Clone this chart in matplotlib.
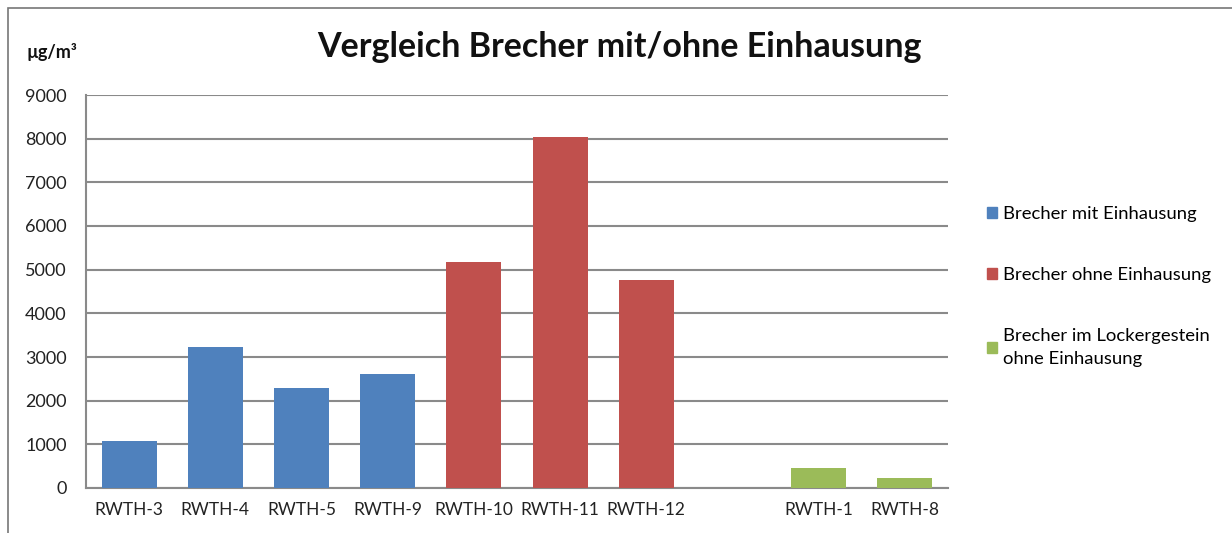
import matplotlib.pyplot as plt
from matplotlib.patches import Rectangle, Patch

plt.rcParams["font.family"] = ["Lato", "DejaVu Sans"]

# daten
labels = ["RWTH-3", "RWTH-4", "RWTH-5", "RWTH-9", "RWTH-10", "RWTH-11", "RWTH-12", "", "RWTH-1", "RWTH-8"]
mit_einhausung = [1080, 3220, 2300, 2620, None, None, None, None, None, None]
ohne_einhausung = [None, None, None, None, 5170, 8040, 4760, None, None, None]
lockergestein = [None, None, None, None, None, None, None, None, 460, 240]

serien = ["Brecher mit Einhausung", "Brecher ohne Einhausung",
          "Brecher im Lockergestein\nohne Einhausung"]
farben = ["#4F81BD", "#C0504D", "#9BBB59"]
yticks = [0, 1000, 2000, 3000, 4000, 5000, 6000, 7000, 8000, 9000]

fig = plt.figure(figsize=(12.32, 5.33), dpi=100)
ax = fig.add_axes([86 / 1232, 1 - 488 / 533, 862 / 1232, 393 / 533])

x = list(range(len(labels)))
for werte, farbe in zip([mit_einhausung, ohne_einhausung, lockergestein], farben):
    xs = [i for i, v in zip(x, werte) if v is not None]
    vs = [v for v in werte if v is not None]
    ax.bar(xs, vs, width=0.64, color=farbe, zorder=3)

ax.set_xlim(-0.5, len(labels) - 0.5)
ax.set_ylim(0, 9000)
ax.set_yticks(yticks)
ax.set_yticklabels([str(t) for t in yticks], fontsize=13, color="#222222")
ax.set_xticks(x)
ax.set_xticklabels(labels, fontsize=12.5, color="#222222")
ax.tick_params(axis="y", length=0, pad=14)
ax.tick_params(axis="x", length=0, pad=10)
ax.grid(axis="y", color="#8a8a8a", linewidth=1.5, zorder=0)
for s in ["top", "right"]:
    ax.spines[s].set_visible(False)
for s in ["left", "bottom"]:
    ax.spines[s].set_color("#8a8a8a")
    ax.spines[s].set_linewidth(1.5)

fig.text(619 / 1232, 1 - 47 / 533, "Vergleich Brecher mit/ohne Einhausung",
         ha="center", va="center", fontsize=24.5, fontweight="bold", color="#111111")
fig.text(27 / 1232, 1 - 52 / 533, "µg/m³", ha="left", va="center",
         fontsize=13, fontweight="bold", color="#111111")

handles = [Patch(color=f) for f in farben]
leg = fig.legend(handles, serien, loc="upper left", bbox_to_anchor=(970 / 1232, 1 - 189 / 533),
                 frameon=False, fontsize=13.3, handlelength=0.55, handleheight=0.55,
                 handletextpad=0.35, labelspacing=2.45)
for t in leg.get_texts():
    t.set_linespacing(1.55)

# rahmen
fig.patches.append(Rectangle((8 / 1232, -0.1), 1.2, 1 - 8 / 533 + 0.1,
                             transform=fig.transFigure, fill=False,
                             edgecolor="#777777", linewidth=1.2))

fig.savefig("out.png", dpi=100)
